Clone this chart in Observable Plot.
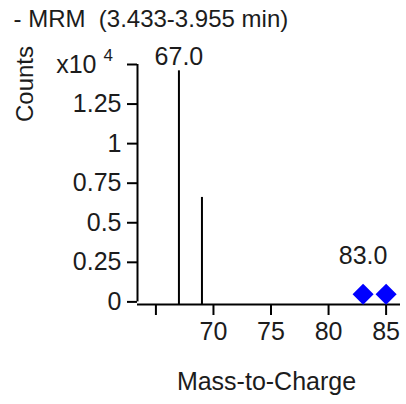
<!DOCTYPE html>
<html>
<head>
<meta charset="utf-8">
<script src="https://cdn.jsdelivr.net/npm/d3@7"></script>
<script src="https://cdn.jsdelivr.net/npm/@observablehq/plot@0.6"></script>
<style>
  html, body { margin: 0; padding: 0; background: #fff; }
</style>
</head>
<body>
<div id="chart"></div>
<script>
// Data (counts in units of 10^4)
const peakMz = [67.0, 69.0];
const peakCounts = [1.46, 0.66];
const markerMz = [83.0, 85.0];
const markerCounts = [0.048, 0.048];
const labelMz = [67.0, 83.0];
const labelCounts = [1.46, 0.048];
const labelTexts = ["67.0", "83.0"];
const xTicks = [65, 70, 75, 80, 85];
const xTickLabels = ["", "70", "75", "80", "85"];
const yTicks = [0, 0.25, 0.5, 0.75, 1, 1.25, 1.5];
const yTickLabels = ["0", "0.25", "0.5", "0.75", "1", "1.25", ""];
const titleText = "- MRM\u00a0 (3.433-3.955 min)";
const yLabel = "Counts";
const xLabel = "Mass-to-Charge";
const expText = "x10";
const expPower = "4";

const xDomain = [63.4, 86.25];
const yBase = -0.0165;
const yDomain = [yBase, 1.5];

const peaks = peakMz.map((m, i) => ({mz: m, counts: peakCounts[i]}));
const markers = markerMz.map((m, i) => ({mz: m, counts: markerCounts[i]}));
const labels = labelMz.map((m, i) => ({mz: m, counts: labelCounts[i], text: labelTexts[i]}));
const xLab = new Map(xTicks.map((t, i) => [t, xTickLabels[i]]));
const yLab = new Map(yTicks.map((t, i) => [t, yTickLabels[i]]));

const ink = "#1c1c1c";
const fs = 25;

const chart = Plot.plot({
  width: 406,
  height: 404,
  marginTop: 64,
  marginBottom: 100,
  marginLeft: 137,
  marginRight: 6,
  style: {fontFamily: "'Liberation Sans', Arial, sans-serif", fontSize: fs + "px", color: ink, background: "#fff"},
  x: {domain: xDomain},
  y: {domain: yDomain},
  marks: [
    Plot.axisX({ticks: xTicks, tickFormat: d => xLab.get(d), tickSize: 11, tickPadding: 7, strokeWidth: 2, stroke: "#000", label: null, fontSize: fs}),
    Plot.axisY({ticks: yTicks, tickFormat: d => yLab.get(d), tickSize: 10, tickPadding: 6, strokeWidth: 2, stroke: "#000", label: null, fontSize: fs}),
    Plot.ruleY([yBase], {stroke: "#000", strokeWidth: 2}),
    Plot.ruleX([xDomain[0]], {y1: 0, y2: 1.5, stroke: "#000", strokeWidth: 2}),
    Plot.ruleX(peaks, {x: "mz", y1: yBase, y2: "counts", stroke: "#000", strokeWidth: 2}),
    Plot.dot(markers, {x: "mz", y: "counts", symbol: "diamond2", r: 9.5, fill: "#0000ff", stroke: "none"}),
    Plot.text(labels.slice(0, 1), {x: "mz", y: "counts", text: "text", dy: -14, fontSize: fs, fill: ink}),
    Plot.text(labels.slice(1, 2), {x: "mz", y: "counts", text: "text", dy: -38.5, fontSize: fs, fill: ink}),
    Plot.text([titleText], {frameAnchor: "top-left", textAnchor: "start", lineAnchor: "middle", dx: -124, dy: -45.5, fontSize: 24, fill: ink}),
    Plot.text([yLabel], {frameAnchor: "top-left", textAnchor: "middle", lineAnchor: "middle", rotate: -90, dx: -112, dy: 19.5, fontSize: 24, fill: ink}),
    Plot.text([expText], {frameAnchor: "top-left", textAnchor: "end", lineAnchor: "middle", dx: -41, dy: 0, fontSize: fs, fill: ink}),
    Plot.text([expPower], {frameAnchor: "top-left", textAnchor: "start", lineAnchor: "middle", dx: -34, dy: -9, fontSize: 17, fill: ink}),
    Plot.text([xLabel], {frameAnchor: "bottom", textAnchor: "middle", lineAnchor: "middle", dx: -2.5, dy: 77, fontSize: fs, fill: ink})
  ]
});
document.getElementById("chart").appendChild(chart);
</script>
</body>
</html>
